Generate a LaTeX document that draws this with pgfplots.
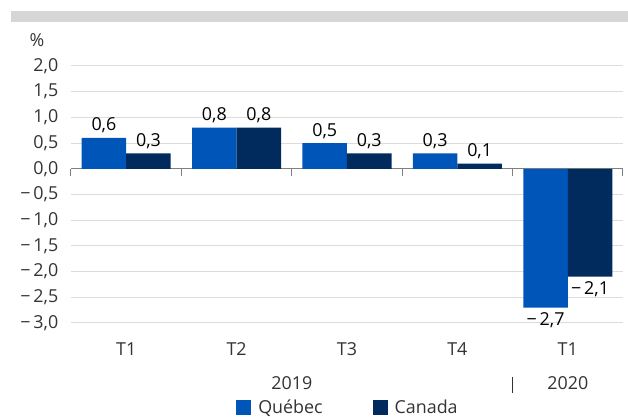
\documentclass[border=0pt]{standalone}
\usepackage{fontspec}
\setmainfont{Open Sans}
\usepackage{pgfplots}
\pgfplotsset{compat=1.18}

\definecolor{qc}{HTML}{0055B8}
\definecolor{ca}{HTML}{002B5C}
\definecolor{topbar}{HTML}{D5D7D7}
\definecolor{gridc}{HTML}{DCDCDC}
\definecolor{axisc}{HTML}{808080}
\definecolor{txt}{HTML}{333333}

\newcommand{\lbl}{\fontsize{13.4}{16}\selectfont}

\begin{document}
\begin{tikzpicture}
\useasboundingbox (0,0) rectangle (471pt,312.75pt);
\fill[topbar] (8.25pt,296.25pt) rectangle (471pt,304.5pt);
\node[anchor=base, font=\lbl, text=txt] at (27.75pt,277.5pt) {\%};

\begin{axis}[
  at={(53.25pt,70.5pt)}, anchor=south west,
  scale only axis, width=414pt, height=192.75pt,
  xmin=-0.5, xmax=4.5, ymin=-3, ymax=2,
  clip=false,
  axis x line=middle, axis y line=left,
  axis line style={-, draw=axisc, line width=0.75pt},
  y axis line style={draw=none},
  ybar=0pt, bar width=33.4pt,
  xtick={0,1,2,3,4},
  xticklabels={T1,T2,T3,T4,T1},
  minor xtick={-0.5,0.5,1.5,2.5,3.5,4.5},
  major tick length=0pt, minor tick length=5.25pt,
  tick align=outside,
  tick style={draw=axisc, line width=0.75pt},
  ytick={-3,-2.5,-2,-1.5,-1,-0.5,0,0.5,1,1.5,2},
  yticklabels={{−\,3,0},{−\,2,5},{−\,2,0},{−\,1,5},{−\,1,0},{−\,0,5},{0,0},{0,5},{1,0},{1,5},{2,0}},
  ymajorgrids, grid style={draw=gridc, line width=0.75pt},
  ticklabel style={font=\lbl, text=txt},
  xticklabel style={anchor=base, yshift=-140pt},
  yticklabel style={anchor=east, xshift=-6pt},
  point meta=explicit symbolic,
  visualization depends on={rawy \as \ry},
  nodes near coords,
  every node near coord/.append style={font=\lbl, text=black,
    anchor={\ifdim\ry pt<0pt north\else south\fi}},
  legend style={at={(0.2989,-0.329)}, anchor=west, draw=none, fill=none,
    inner sep=0pt, font=\lbl, text=txt, nodes={inner sep=0pt},
    /tikz/every odd column/.append style={column sep=5.25pt},
    /tikz/every even column/.append style={column sep=37.5pt}},
  legend columns=2,
  sq/.style={legend image code/.code={\fill[##1] (0pt,-5.6pt) rectangle (11.25pt,5.6pt);}},
]
\addplot[fill=qc, draw=none, sq] coordinates {
  (0,0.6) [0,6]
  (1,0.8) [0,8]
  (2,0.5) [0,5]
  (3,0.3) [0,3]
  (4,-2.7) [−\,2,7]
};
\addplot[fill=ca, draw=none, sq] coordinates {
  (0,0.3) [0,3]
  (1,0.8) [0,8]
  (2,0.3) [0,3]
  (3,0.1) [0,1]
  (4,-2.1) [−\,2,1]
};
\legend{Québec, Canada}
\node[anchor=base, font=\lbl, text=txt] at (axis cs:1.5,-4.3) {2019};
\node[anchor=base, font=\lbl, text=txt] at (axis cs:4,-4.3) {2020};
\draw[txt, line width=0.75pt] (axis cs:3.5,-4.05) -- (axis cs:3.5,-4.36);
\end{axis}
\end{tikzpicture}
\end{document}
